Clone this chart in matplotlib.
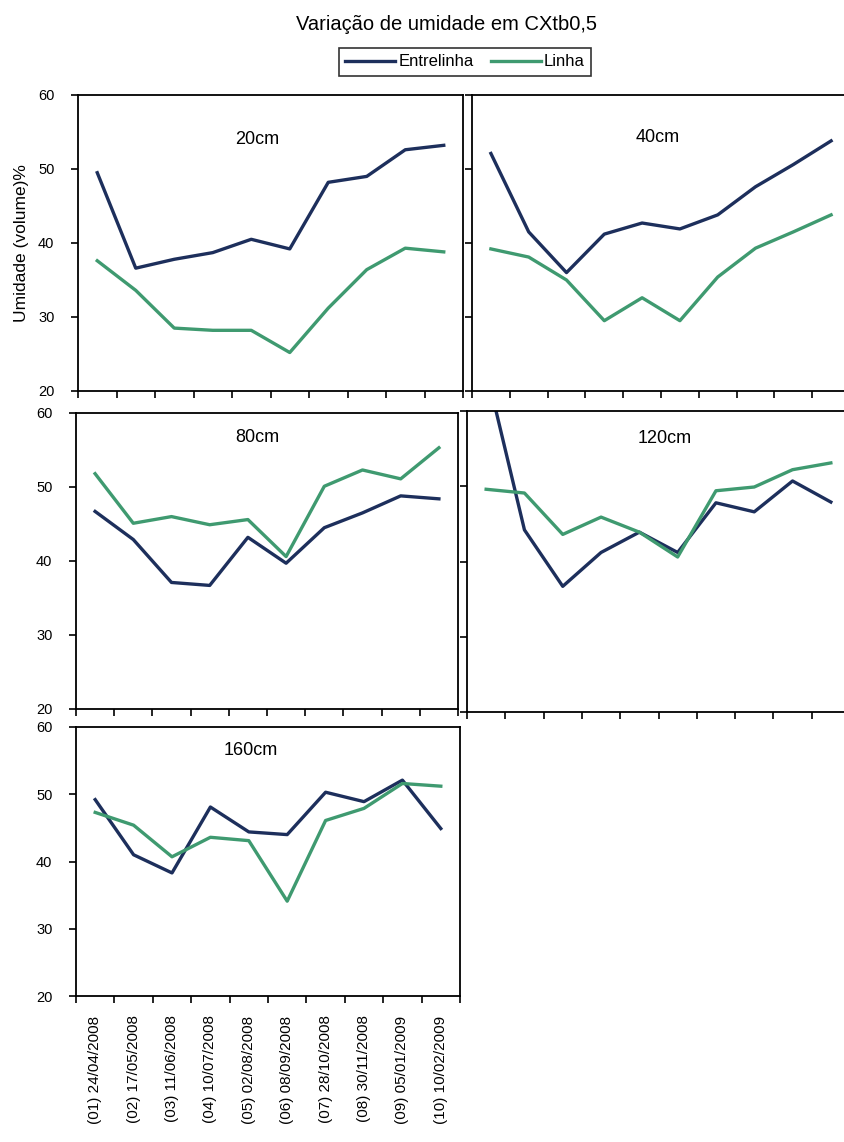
import matplotlib
matplotlib.use("Agg")
import matplotlib.pyplot as plt
from matplotlib.ticker import FixedLocator, NullFormatter, FixedFormatter

plt.rcParams['font.family'] = ['Liberation Sans', 'DejaVu Sans']

# data
dates = ["(01) 24/04/2008", "(02) 17/05/2008", "(03) 11/06/2008", "(04) 10/07/2008",
         "(05) 02/08/2008", "(06) 08/09/2008", "(07) 28/10/2008", "(08) 30/11/2008",
         "(09) 05/01/2009", "(10) 10/02/2009"]
depths = ["20cm", "40cm", "80cm", "120cm", "160cm"]

entrelinha_20 = [49.5, 36.6, 37.8, 38.7, 40.5, 39.2, 48.2, 49.0, 52.6, 53.2]
linha_20 = [37.6, 33.6, 28.5, 28.2, 28.2, 25.2, 31.2, 36.4, 39.3, 38.8]
entrelinha_40 = [52.1, 41.5, 36.0, 41.2, 42.7, 41.9, 43.8, 47.6, 50.6, 53.8]
linha_40 = [39.2, 38.1, 35.0, 29.5, 32.6, 29.5, 35.4, 39.3, 41.5, 43.8]
entrelinha_80 = [46.7, 42.9, 37.1, 36.7, 43.2, 39.7, 44.5, 46.5, 48.8, 48.4]
linha_80 = [51.8, 45.1, 46.0, 44.9, 45.6, 40.6, 50.1, 52.3, 51.1, 55.3]
entrelinha_120 = [65.5, 44.2, 36.7, 41.2, 43.9, 41.2, 47.8, 46.6, 50.7, 47.9]
linha_120 = [49.6, 49.1, 43.6, 45.9, 43.9, 40.6, 49.4, 49.9, 52.2, 53.1]
entrelinha_160 = [49.2, 41.0, 38.3, 48.1, 44.4, 44.0, 50.3, 48.9, 52.1, 44.9]
linha_160 = [47.3, 45.4, 40.7, 43.6, 43.1, 34.1, 46.1, 47.9, 51.6, 51.2]

entrelinha = [entrelinha_20, entrelinha_40, entrelinha_80, entrelinha_120, entrelinha_160]
linha = [linha_20, linha_40, linha_80, linha_120, linha_160]

C_ENT = '#1d2f5c'
C_LIN = '#3f9a70'

W, H = 845, 1142
fig = plt.figure(figsize=(W / 100, H / 100), dpi=100)

def px_rect(x0, x1, y0, y1):
    return [x0 / W, 1 - y1 / H, (x1 - x0) / W, (y1 - y0) / H]

rects = [px_rect(78, 463, 95, 391), px_rect(472, 850, 95, 391),
         px_rect(76, 458, 413, 709), px_rect(467, 850, 411, 712),
         px_rect(76, 460, 727, 996)]
label_pos = [(0.465, 0.848), (0.49, 0.858), (0.474, 0.916), (0.516, 0.91), (0.456, 0.914)]

x = list(range(1, len(dates) + 1))
for i in range(5):
    ax = fig.add_axes(rects[i])
    ax.plot(x, entrelinha[i], color=C_ENT, lw=2.4, label='Entrelinha')
    ax.plot(x, linha[i], color=C_LIN, lw=2.4, label='Linha')
    ax.set_xlim(0.5, len(dates) + 0.5)
    ax.set_ylim(20, 60)
    ax.set_yticks([20, 30, 40, 50, 60])
    ax.xaxis.set_major_locator(FixedLocator([k + 0.5 for k in range(0, len(dates) + 1)]))
    ax.xaxis.set_major_formatter(NullFormatter())
    for s in ax.spines.values():
        s.set_linewidth(1.3)
    ax.tick_params(axis='both', direction='out', length=5, width=1.2, labelsize=10.5)
    ax.tick_params(axis='y', pad=12)
    if i in (1, 3):
        ax.set_yticklabels([])
    if i == 4:
        ax.xaxis.set_minor_locator(FixedLocator(x))
        ax.xaxis.set_minor_formatter(FixedFormatter(dates))
        ax.tick_params(axis='x', which='minor', length=0, labelsize=11, rotation=90, pad=14)
    ax.text(label_pos[i][0], label_pos[i][1], depths[i], transform=ax.transAxes,
            ha='center', va='center', fontsize=13)
    if i == 0:
        handles, labels = ax.get_legend_handles_labels()

fig.text(22 / W, 1 - 243 / H, "Umidade (volume)%", rotation=90, ha='center', va='center', fontsize=12.5)
fig.text(447 / W, 1 - 25 / H, "Variação de umidade em CXtb0,5", ha='center', va='center', fontsize=14.5)
leg = fig.legend(handles, labels, loc='center', bbox_to_anchor=(465 / W, 1 - 62 / H), ncol=2,
                 fontsize=12, frameon=True, fancybox=False, edgecolor='black',
                 handlelength=3.0, handletextpad=0.2, columnspacing=1.0, borderpad=0.4)
leg.get_frame().set_linewidth(1.2)

fig.savefig("out.png", dpi=100)
